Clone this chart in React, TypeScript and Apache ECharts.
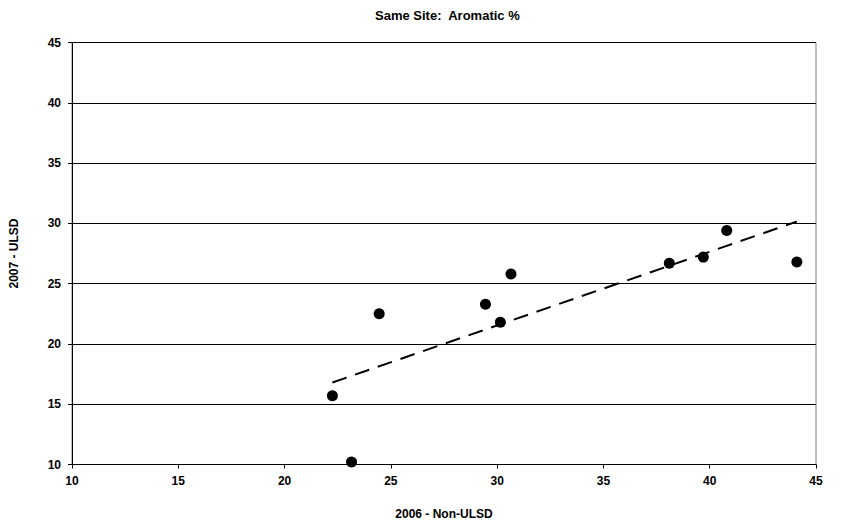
import React, { useEffect, useRef } from "react";
import * as echarts from "echarts";

const xValues = [22.25, 23.15, 24.45, 29.45, 30.15, 30.65, 38.1, 39.7, 40.8, 44.1];
const yValues = [15.7, 10.2, 22.5, 23.3, 21.8, 25.8, 26.7, 27.2, 29.4, 26.8];
const trendX = [22.25, 44.1];
const trendY = [16.8, 30.15];
const title = "Same Site:  Aromatic %";
const xName = "2006 - Non-ULSD";
const yName = "2007 - ULSD";

const FONT = "'Liberation Sans', Arial, sans-serif";

export default function App() {
  const ref = useRef<HTMLDivElement>(null);
  useEffect(() => {
    if (!ref.current) return;
    const chart = echarts.init(ref.current, null, { renderer: "svg" });
    chart.setOption({
      animation: false,
      backgroundColor: "#ffffff",
      title: {
        text: title,
        left: 370,
        top: 4,
        textStyle: { fontFamily: FONT, fontSize: 13, fontWeight: "bold", color: "#000" },
      },
      grid: {
        left: 71,
        right: 28,
        top: 42.5,
        bottom: 61.5,
        show: true,
        borderColor: "#808080",
        borderWidth: 1,
        backgroundColor: "transparent",
      },
      xAxis: {
        type: "value",
        min: 10,
        max: 45,
        interval: 5,
        name: xName,
        nameLocation: "middle",
        nameGap: 43,
        nameTextStyle: { fontFamily: FONT, fontSize: 12, fontWeight: "bold", color: "#000" },
        axisLine: { show: true, lineStyle: { color: "#000", width: 1 } },
        axisTick: { show: true, inside: false, length: 4, lineStyle: { color: "#000" } },
        axisLabel: { margin: 10, fontFamily: FONT, fontSize: 12, fontWeight: "bold", color: "#000" },
        splitLine: { show: false },
      },
      yAxis: {
        type: "value",
        min: 10,
        max: 45,
        interval: 5,
        name: yName,
        nameLocation: "middle",
        nameGap: 52,
        nameTextStyle: { fontFamily: FONT, fontSize: 12, fontWeight: "bold", color: "#000" },
        axisLine: { show: true, lineStyle: { color: "#000", width: 1 } },
        axisTick: { show: true, inside: false, length: 4, lineStyle: { color: "#000" } },
        axisLabel: { margin: 11, fontFamily: FONT, fontSize: 12, fontWeight: "bold", color: "#000" },
        splitLine: { show: true, lineStyle: { color: "#000", width: 1 } },
      },
      series: [
        {
          type: "scatter",
          data: xValues.map((x, i) => [x, yValues[i]]),
          symbol: "circle",
          symbolSize: 11,
          itemStyle: { color: "#000", opacity: 1 },
          z: 3,
        },
        {
          type: "line",
          data: trendX.map((x, i) => [x, trendY[i]]),
          showSymbol: false,
          symbol: "none",
          lineStyle: { color: "#000", width: 2, type: [15, 9] },
          z: 2,
        },
      ],
    });
    return () => chart.dispose();
  }, []);
  return <div ref={ref} style={{ width: 844, height: 526, position: "absolute", left: 0, top: 0 }} />;
}
